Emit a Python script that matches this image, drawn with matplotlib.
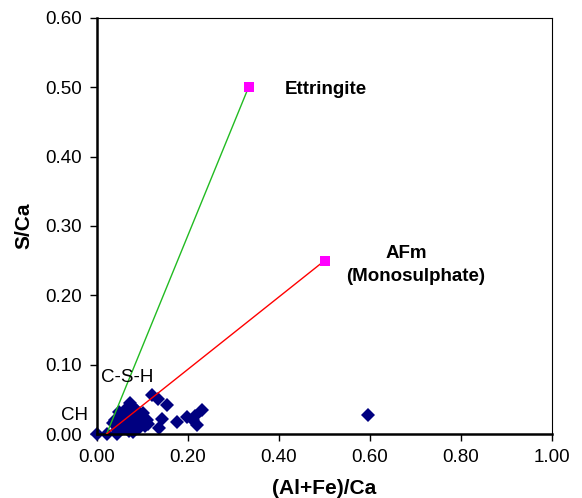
import matplotlib
matplotlib.use("Agg")
import matplotlib.pyplot as plt

plt.rcParams['font.family'] = ['Liberation Sans', 'DejaVu Sans']

# Measured compositions (Al+Fe)/Ca vs S/Ca
x_pts = [0.000, 0.021, 0.035, 0.040, 0.044, 0.045, 0.050, 0.052, 0.055, 0.058,
         0.060, 0.062, 0.066, 0.068, 0.070, 0.072, 0.073, 0.075, 0.078, 0.079,
         0.080, 0.082, 0.085, 0.087, 0.090, 0.092, 0.095, 0.098, 0.101, 0.105,
         0.109, 0.120, 0.134, 0.136, 0.143, 0.153, 0.175, 0.197, 0.211, 0.215,
         0.219, 0.230, 0.596, 0.048, 0.063, 0.070, 0.088, 0.112]
y_pts = [0.000, 0.000, 0.016, 0.020, 0.006, 0.000, 0.025, 0.012, 0.018, 0.030,
         0.008, 0.022, 0.010, 0.028, 0.015, 0.035, 0.045, 0.020, 0.003, 0.039,
         0.006, 0.030, 0.012, 0.025, 0.018, 0.008, 0.016, 0.022, 0.030, 0.012,
         0.020, 0.056, 0.050, 0.009, 0.022, 0.042, 0.018, 0.025, 0.020, 0.026,
         0.013, 0.034, 0.027, 0.032, 0.036, 0.004, 0.033, 0.015]

# Reference phases
ett_x, ett_y = 0.333, 0.50
afm_x, afm_y = 0.50, 0.25
origin_x, origin_y = 0.021, 0.0

x_ticks = [0.0, 0.2, 0.4, 0.6, 0.8, 1.0]
y_ticks = [0.0, 0.1, 0.2, 0.3, 0.4, 0.5, 0.6]

fig = plt.figure(figsize=(5.82, 4.98), dpi=100)
ax = fig.add_axes([0.1667, 0.1285, 0.7818, 0.8354])

ax.plot([origin_x, ett_x], [origin_y, ett_y], color='#22bb22', lw=1.0, zorder=3)
ax.plot([origin_x, afm_x], [origin_y, afm_y], color='red', lw=1.0, zorder=3)
ax.plot(x_pts, y_pts, linestyle='none', marker='D', ms=6.8, color='#000080',
        markeredgewidth=0, zorder=2, clip_on=False)
ax.plot([ett_x, afm_x], [ett_y, afm_y], linestyle='none', marker='s', ms=7.5,
        color='#ff00ff', markeredgewidth=0, zorder=4)

ax.set_xlim(0, 1.0)
ax.set_ylim(0, 0.6)
ax.set_xticks(x_ticks)
ax.set_yticks(y_ticks)
ax.set_xticklabels([f"{v:.2f}" for v in x_ticks], fontsize=13.5)
ax.set_yticklabels([f"{v:.2f}" for v in y_ticks], fontsize=13.5)
ax.tick_params(axis='x', direction='out', length=5, width=1, pad=6)
ax.tick_params(axis='y', direction='out', length=5, width=1, pad=6)

for s in ['left', 'bottom']:
    ax.spines[s].set_linewidth(1.8)
for s in ['top', 'right']:
    ax.spines[s].set_linewidth(0.8)

ax.set_xlabel('(Al+Fe)/Ca', fontsize=15, fontweight='bold', labelpad=9)
ax.set_ylabel('S/Ca', fontsize=15, fontweight='bold', labelpad=8)

ax.text(0.412, 0.497, 'Ettringite', fontsize=13.5, fontweight='bold',
        ha='left', va='center')
ax.text(0.679, 0.26, 'AFm', fontsize=13.5, fontweight='bold', ha='center', va='center')
ax.text(0.701, 0.2266, '(Monosulphate)', fontsize=13.5, fontweight='bold',
        ha='center', va='center')
ax.text(0.008, 0.081, 'C-S-H', fontsize=13.5, ha='left', va='center')
ax.text(-0.02, 0.027, 'CH', fontsize=13.5, ha='right', va='center', clip_on=False)

fig.savefig('out.png', dpi=100)
